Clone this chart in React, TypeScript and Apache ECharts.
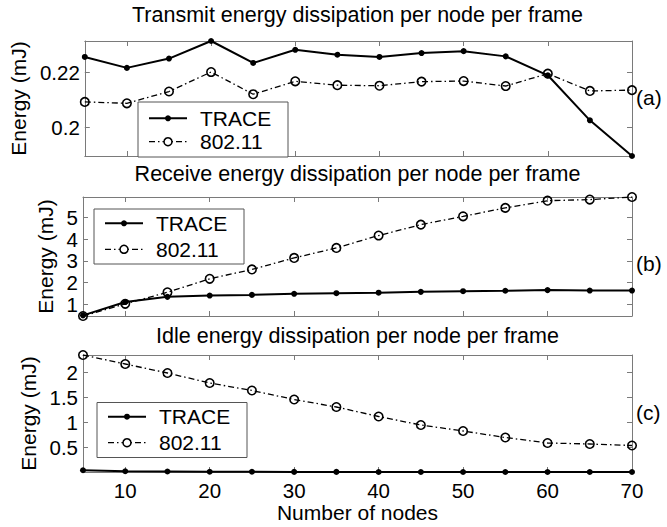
import React, { useEffect, useRef } from "react";
import * as echarts from "echarts";

// ---------- data ----------
const nodes = [5, 10, 15, 20, 25, 30, 35, 40, 45, 50, 55, 60, 65, 70];

const txTrace = [0.2256, 0.2216, 0.225, 0.2314, 0.2234, 0.2282, 0.2264, 0.2256, 0.227, 0.2277, 0.2258, 0.2189, 0.2025, 0.1895];
const txWifi = [0.2092, 0.2087, 0.213, 0.2201, 0.212, 0.2167, 0.2153, 0.2151, 0.2166, 0.2168, 0.215, 0.2195, 0.2132, 0.2135];

const rxTrace = [0.5, 1.11, 1.35, 1.41, 1.44, 1.49, 1.52, 1.54, 1.58, 1.61, 1.63, 1.66, 1.64, 1.64];
const rxWifi = [0.47, 1.03, 1.56, 2.18, 2.61, 3.14, 3.6, 4.17, 4.67, 5.05, 5.44, 5.77, 5.82, 5.94];

const idleTrace = [0.045, 0.025, 0.02, 0.015, 0.015, 0.012, 0.012, 0.01, 0.01, 0.01, 0.01, 0.01, 0.01, 0.01];
const idleWifi = [2.35, 2.17, 1.99, 1.79, 1.64, 1.46, 1.31, 1.12, 0.95, 0.83, 0.7, 0.59, 0.57, 0.54];

const xTicks = [10, 20, 30, 40, 50, 60, 70];
const txTicks = [0.2, 0.22];
const rxTicks = [1, 2, 3, 4, 5];
const idleTicks = [0.5, 1, 1.5, 2];

const seriesNames = ["TRACE", "802.11"];
const panelTitles = [
  "Transmit energy dissipation per node per frame",
  "Receive energy dissipation per node per frame",
  "Idle energy dissipation per node per frame",
];
const panelTags = ["(a)", "(b)", "(c)"];
const yName = "Energy (mJ)";
const xName = "Number of nodes";

// ---------- layout / style ----------
const FONT = "'Liberation Sans', Arial, Helvetica, sans-serif";
const GRID_LEFT = 83;
const GRID_W = 549;
const panels = [
  { top: 41, height: 115, trace: txTrace, wifi: txWifi, ticks: txTicks, nameGap: 50, titleTop: 4, tagY: 97, legend: { left: 138, top: 102, r1: 118.3, r2: 141.7 } },
  { top: 197, height: 119, trace: rxTrace, wifi: rxWifi, ticks: rxTicks, nameGap: 22, titleTop: 163, tagY: 263, legend: { left: 94, top: 209, r1: 223.3, r2: 249.3 } },
  { top: 355, height: 117, trace: idleTrace, wifi: idleWifi, ticks: idleTicks, nameGap: 40, titleTop: 325, tagY: 412, legend: { left: 97, top: 402.5, r1: 416.7, r2: 442.7 } },
];
const AXIS_COLOR = "#7a7a7a";
const DASHDOT = [6, 3, 1.5, 3];
const TICK_FS = 20.5;
const TEXT_FS = 21;
const TITLE_FS = 21.5;

function legendElements(lg: { left: number; top: number; r1: number; r2: number }) {
  const L = lg.left;
  return [
    { type: "rect", z: 100, shape: { x: L, y: lg.top, width: 150, height: 55 }, style: { fill: "#fff", stroke: "#555", lineWidth: 1 } },
    { type: "line", z: 101, shape: { x1: L + 11, y1: lg.r1, x2: L + 49, y2: lg.r1 }, style: { stroke: "#000", lineWidth: 2 } },
    { type: "circle", z: 102, shape: { cx: L + 30, cy: lg.r1, r: 3 }, style: { fill: "#000" } },
    { type: "text", z: 101, x: L + 62, y: lg.r1, style: { text: seriesNames[0], fontSize: TEXT_FS, fontFamily: FONT, fill: "#000", verticalAlign: "middle", align: "left" } },
    { type: "line", z: 101, shape: { x1: L + 11, y1: lg.r2, x2: L + 49, y2: lg.r2 }, style: { stroke: "#000", lineWidth: 1.3, lineDash: DASHDOT } },
    { type: "circle", z: 102, shape: { cx: L + 30, cy: lg.r2, r: 4 }, style: { fill: "#fff", stroke: "#000", lineWidth: 1.5 } },
    { type: "text", z: 101, x: L + 62, y: lg.r2, style: { text: seriesNames[1], fontSize: TEXT_FS, fontFamily: FONT, fill: "#000", verticalAlign: "middle", align: "left" } },
  ];
}

export default function App() {
  const ref = useRef<HTMLDivElement>(null);

  useEffect(() => {
    if (!ref.current) return;
    const chart = echarts.init(ref.current, undefined, { renderer: "svg" });

    const grid: any[] = [];
    const xAxis: any[] = [];
    const yAxis: any[] = [];
    const series: any[] = [];
    const title: any[] = [];
    const graphic: any[] = [];

    panels.forEach((p, i) => {
      const all = [...p.trace, ...p.wifi];
      const yMin = Math.min(...all);
      const yMax = Math.max(...all);
      grid.push({ left: GRID_LEFT, width: GRID_W, top: p.top, height: p.height, containLabel: false });

      const isLast = i === panels.length - 1;
      xAxis.push({
        type: "value",
        gridIndex: i,
        min: 5,
        max: 70,
        position: "bottom",
        axisLine: { show: true, onZero: false, lineStyle: { color: AXIS_COLOR, width: 1 } },
        axisTick: { show: true, inside: true, length: 5, customValues: xTicks, lineStyle: { color: AXIS_COLOR } },
        axisLabel: { show: isLast, customValues: xTicks, margin: 8, fontSize: TICK_FS, fontFamily: FONT, color: "#000" },
        splitLine: { show: false },
        name: isLast ? xName : "",
        nameLocation: "middle",
        nameGap: 30,
        nameTextStyle: { fontSize: TEXT_FS, fontFamily: FONT, color: "#000" },
      });
      xAxis.push({
        type: "value",
        gridIndex: i,
        min: 5,
        max: 70,
        position: "top",
        axisLine: { show: true, onZero: false, lineStyle: { color: AXIS_COLOR, width: 1 } },
        axisTick: { show: true, inside: true, length: 5, customValues: xTicks, lineStyle: { color: AXIS_COLOR } },
        axisLabel: { show: false },
        splitLine: { show: false },
      });
      yAxis.push({
        type: "value",
        gridIndex: i,
        min: yMin,
        max: yMax,
        position: "left",
        axisLine: { show: true, onZero: false, lineStyle: { color: AXIS_COLOR, width: 1 } },
        axisTick: { show: true, inside: true, length: 5, customValues: p.ticks, lineStyle: { color: AXIS_COLOR } },
        axisLabel: { show: true, customValues: p.ticks, margin: 5, fontSize: TICK_FS, fontFamily: FONT, color: "#000" },
        splitLine: { show: false },
        name: yName,
        nameLocation: "middle",
        nameGap: p.nameGap,
        nameTextStyle: { fontSize: TEXT_FS, fontFamily: FONT, color: "#000" },
      });
      yAxis.push({
        type: "value",
        gridIndex: i,
        min: yMin,
        max: yMax,
        position: "right",
        axisLine: { show: true, onZero: false, lineStyle: { color: AXIS_COLOR, width: 1 } },
        axisTick: { show: true, inside: true, length: 5, customValues: p.ticks, lineStyle: { color: AXIS_COLOR } },
        axisLabel: { show: false },
        splitLine: { show: false },
      });

      series.push({
        name: seriesNames[0],
        type: "line",
        xAxisIndex: 2 * i,
        yAxisIndex: 2 * i,
        data: nodes.map((n, k) => [n, p.trace[k]]),
        symbol: "circle",
        symbolSize: 6,
        showAllSymbol: true,
        lineStyle: { color: "#000", width: 2, type: "solid" },
        itemStyle: { color: "#000" },
        z: 3,
      });
      series.push({
        name: seriesNames[1],
        type: "line",
        xAxisIndex: 2 * i,
        yAxisIndex: 2 * i,
        data: nodes.map((n, k) => [n, p.wifi[k]]),
        symbol: "circle",
        symbolSize: 8.5,
        showAllSymbol: true,
        lineStyle: { color: "#000", width: 1.3, type: DASHDOT },
        itemStyle: { color: "rgba(0,0,0,0)", borderColor: "#000", borderWidth: 1.6 },
        z: 4,
      });

      title.push({
        text: panelTitles[i],
        left: GRID_LEFT + GRID_W / 2,
        textAlign: "center",
        top: p.titleTop,
        padding: 0,
        textStyle: { fontSize: TITLE_FS, fontWeight: "normal", fontFamily: FONT, color: "#000" },
      });

      graphic.push({
        type: "text",
        x: GRID_LEFT + GRID_W + 4,
        y: p.tagY,
        style: { text: panelTags[i], fontSize: TEXT_FS, fontFamily: FONT, fill: "#000", verticalAlign: "middle", align: "left" },
      });
      graphic.push(...legendElements(p.legend));
    });

    chart.setOption({
      animation: false,
      backgroundColor: "#fff",
      title,
      grid,
      xAxis,
      yAxis,
      series,
      graphic,
    });

    return () => chart.dispose();
  }, []);

  return (
    <div
      ref={ref}
      style={{ position: "absolute", left: 0, top: 0, width: 667, height: 527, background: "#fff" }}
    />
  );
}
